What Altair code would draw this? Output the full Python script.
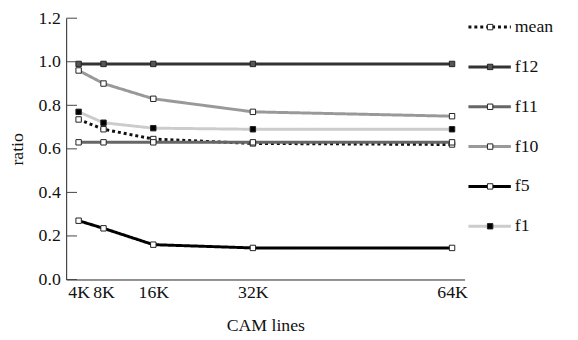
import altair as alt
import pandas as pd

# ---- data ----
cam_k = [4, 8, 16, 32, 64]
series_order = ["mean", "f12", "f11", "f10", "f5", "f1"]
values = {
    "f12":  [0.99, 0.99, 0.99, 0.99, 0.99],
    "f11":  [0.63, 0.63, 0.63, 0.63, 0.63],
    "f10":  [0.96, 0.90, 0.83, 0.77, 0.75],
    "f5":   [0.27, 0.235, 0.16, 0.145, 0.145],
    "f1":   [0.77, 0.72, 0.695, 0.69, 0.69],
    "mean": [0.735, 0.69, 0.645, 0.625, 0.62],
}
y_ticks = [0.0, 0.2, 0.4, 0.6, 0.8, 1.0, 1.2]
x_ticks = [4, 8, 16, 32, 64]

# ---- styles ----
line_colors = ["#111111", "#333333", "#666666", "#999999", "#000000", "#cccccc"]
marker_fill = ["#ffffff", "#555555", "#ffffff", "#ffffff", "#ffffff", "#000000"]
dashes = [[3, 3], [1, 0], [1, 0], [1, 0], [1, 0], [1, 0]]
FONT = "Liberation Serif"
FS = 18

rows = []
for s in series_order:
    for k, v in zip(cam_k, values[s]):
        rows.append({"series": s, "cam": k, "ratio": v})
df = pd.DataFrame(rows)

color_scale = alt.Scale(domain=series_order, range=line_colors)
fill_scale = alt.Scale(domain=series_order, range=marker_fill)
dash_scale = alt.Scale(domain=series_order, range=dashes)

x_enc = alt.X("cam:Q", scale=alt.Scale(domain=[2, 66], nice=False, zero=False),
              axis=alt.Axis(values=x_ticks, labelExpr="datum.value + 'K'", title="CAM lines",
                            ticks=False, grid=False, labelPadding=4, titlePadding=16,
                            domainColor="#222222", labelFontSize=FS, titleFontSize=FS,
                            labelFont=FONT, titleFont=FONT, labelColor="#111", titleColor="#111",
                            titleFontWeight="normal"))
y_enc = alt.Y("ratio:Q", scale=alt.Scale(domain=[0, 1.2], nice=False),
              axis=alt.Axis(values=y_ticks, format=".1f", title="ratio", ticks=False, grid=False,
                            labelPadding=6, titlePadding=12, domainColor="#222222",
                            labelFontSize=FS, titleFontSize=FS, labelFont=FONT, titleFont=FONT,
                            labelColor="#111", titleColor="#111", titleFontWeight="normal"))

base = alt.Chart(df)
lines = base.mark_line(strokeWidth=3).encode(
    x=x_enc, y=y_enc,
    color=alt.Color("series:N", scale=color_scale, legend=None),
    strokeDash=alt.StrokeDash("series:N", scale=dash_scale, legend=None),
    detail="series:N",
    order=alt.Order("cam:Q"),
)
points = base.mark_point(shape="square", filled=True, size=30, stroke="#222222", strokeWidth=1, opacity=1).encode(
    x="cam:Q", y="ratio:Q",
    fill=alt.Fill("series:N", scale=fill_scale, legend=None),
)

tick_df = pd.DataFrame({"t": y_ticks})
yticks = alt.Chart(tick_df).mark_rule(color="#444444", strokeWidth=1).encode(
    y="t:Q", x=alt.value(0), x2=alt.value(11)
)

main = alt.layer(lines, points, yticks)

# ---- custom legend (line + square marker + label) ----
leg_df = pd.DataFrame({"series": series_order})
leg_y = alt.Y("series:N", sort=series_order,
              scale=alt.Scale(type="point", domain=series_order, range=[9, 211], padding=0), axis=None)
leg_base = alt.Chart(leg_df)
leg_lines = leg_base.mark_rule(strokeWidth=3).encode(
    y=leg_y, x=alt.value(408), x2=alt.value(451),
    color=alt.Color("series:N", scale=color_scale, legend=None),
    strokeDash=alt.StrokeDash("series:N", scale=dash_scale, legend=None),
)
leg_pts = leg_base.mark_point(shape="square", filled=True, size=30, stroke="#222222", strokeWidth=1, opacity=1).encode(
    y=leg_y, x=alt.value(430),
    fill=alt.Fill("series:N", scale=fill_scale, legend=None),
)
leg_text = leg_base.mark_text(align="left", baseline="middle", font=FONT, fontSize=FS, color="#111").encode(
    y=leg_y, x=alt.value(455), text="series:N"
)
legend = alt.layer(leg_lines, leg_pts, leg_text)

chart = alt.layer(main, legend).resolve_scale(y="independent").properties(
    width=404, height=265,
    autosize=alt.AutoSizeParams(type="none"),
    padding={"left": 59, "top": 8, "right": 107, "bottom": 59},
).configure_view(stroke=None)

chart.save("out.html", embed_options={"renderer": "svg", "actions": False})
